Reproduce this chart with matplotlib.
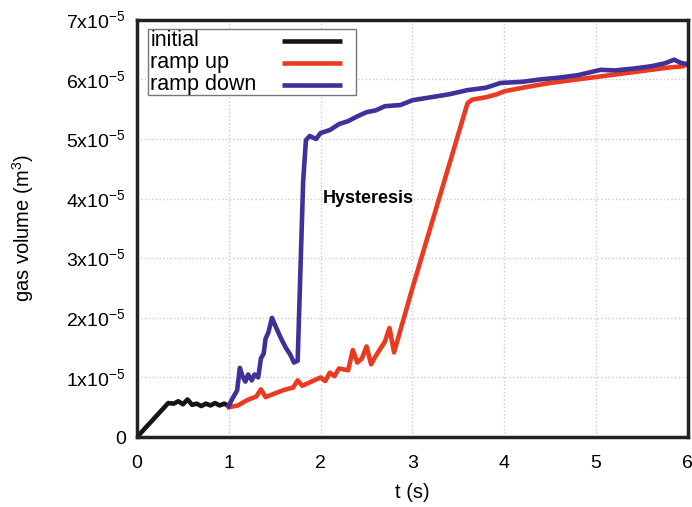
import matplotlib
matplotlib.use('Agg')
import matplotlib.pyplot as plt
from matplotlib.patches import Rectangle

# data (gas volume in units of 1e-5 m^3)
initial_t = [0.0, 0.34, 0.40, 0.45, 0.50, 0.55, 0.60, 0.65, 0.70, 0.75, 0.80, 0.85, 0.90, 0.95, 1.0]
initial_v = [0.0, 0.57, 0.56, 0.60, 0.55, 0.63, 0.54, 0.56, 0.52, 0.56, 0.53, 0.57, 0.53, 0.56, 0.52]

up_t = [1.0, 1.1, 1.2, 1.3, 1.35, 1.4, 1.5, 1.6, 1.7, 1.75, 1.8, 1.9, 2.0, 2.05, 2.1,
        2.15, 2.2, 2.3, 2.35, 2.4, 2.45, 2.5, 2.55, 2.6, 2.7, 2.75, 2.8, 3.0, 3.3,
        3.6, 3.65, 3.8, 3.92, 4.0, 4.2, 4.5, 4.8, 5.05, 5.3, 5.6, 5.8, 5.95, 6.0]
up_v = [0.50, 0.53, 0.62, 0.68, 0.80, 0.67, 0.73, 0.79, 0.83, 0.95, 0.86, 0.93, 1.00, 0.94, 1.08,
        1.02, 1.15, 1.12, 1.46, 1.25, 1.32, 1.52, 1.22, 1.36, 1.60, 1.83, 1.42, 2.50, 4.05,
        5.60, 5.66, 5.70, 5.75, 5.80, 5.86, 5.94, 6.00, 6.05, 6.10, 6.16, 6.20, 6.22, 6.27]

down_t = [1.0, 1.03, 1.06, 1.09, 1.12, 1.15, 1.18, 1.21, 1.25, 1.28, 1.32, 1.35, 1.38, 1.40,
          1.43, 1.47, 1.52, 1.57, 1.62, 1.67, 1.71, 1.75, 1.78, 1.81, 1.84, 1.88, 1.95, 2.0,
          2.1, 2.2, 2.3, 2.4, 2.5, 2.6, 2.7, 2.87, 3.0, 3.2, 3.4, 3.6, 3.8, 3.96, 4.2, 4.4,
          4.6, 4.8, 5.05, 5.2, 5.4, 5.6, 5.75, 5.85, 5.92, 6.0]
down_v = [0.52, 0.62, 0.70, 0.78, 1.16, 1.02, 0.93, 1.05, 0.95, 1.05, 1.00, 1.32, 1.40, 1.65,
          1.75, 2.00, 1.82, 1.65, 1.50, 1.38, 1.25, 1.28, 2.80, 4.30, 4.98, 5.05, 5.00, 5.10,
          5.15, 5.25, 5.30, 5.38, 5.45, 5.48, 5.55, 5.57, 5.65, 5.70, 5.75, 5.82, 5.86, 5.94, 5.96, 6.00,
          6.03, 6.07, 6.16, 6.15, 6.18, 6.22, 6.27, 6.33, 6.28, 6.25]

series_names = ['initial', 'ramp up', 'ramp down']
series_colors = ['#151515', '#ea3a22', '#40309a']

y_ticks = [0, 1, 2, 3, 4, 5, 6, 7]
y_ticklabels = ['0'] + [f'{k}x10$^{{-5}}$' for k in range(1, 8)]
x_ticks = [0, 1, 2, 3, 4, 5, 6]

plt.rcParams['font.family'] = ['Liberation Sans', 'DejaVu Sans']
plt.rcParams['mathtext.fontset'] = 'custom'
plt.rcParams['mathtext.rm'] = 'Liberation Sans'

fig = plt.figure(figsize=(6.92, 5.07), dpi=100)
ax = fig.add_axes([0.198, 0.138, 0.796, 0.823])

lw = 3.3
ax.plot(initial_t, initial_v, color=series_colors[0], lw=lw)
ax.plot(up_t, up_v, color=series_colors[1], lw=lw)
ax.plot(down_t, down_v, color=series_colors[2], lw=lw)

ax.text(2.02, 4.0, 'Hysteresis', fontsize=13, fontweight='bold', va='center', ha='left')

ax.set_xlim(0, 6)
ax.set_ylim(0, 7)
ax.set_xticks(x_ticks)
ax.set_yticks(y_ticks)
ax.set_yticklabels(y_ticklabels)
ax.tick_params(labelsize=14, length=0)
ax.tick_params(axis='x', pad=13)
ax.tick_params(axis='y', pad=8)
ax.set_xlabel('t (s)', fontsize=14.5, labelpad=8)
ax.set_ylabel('gas volume (m$^3$)', fontsize=14.5, labelpad=22)
ax.grid(True, color='#cccccc', linestyle=':', linewidth=1)
for s in ax.spines.values():
    s.set_linewidth(2.5)
    s.set_color('#222222')

# gnuplot-style key: text left-aligned, sample lines on the right
ax.add_patch(Rectangle((0.020, 0.820), 0.377, 0.158, transform=ax.transAxes,
                       facecolor='white', edgecolor='#777777', lw=1, zorder=5))
row_y = [0.950, 0.897, 0.844]
for name, col, yy in zip(series_names, series_colors, row_y):
    ax.text(0.024, yy, name, transform=ax.transAxes, fontsize=15.5,
            va='center', ha='left', zorder=6)
    ax.plot([0.263, 0.372], [yy, yy], transform=ax.transAxes, color=col,
            lw=lw, zorder=6, solid_capstyle='butt')

fig.savefig('out.png', dpi=100)
